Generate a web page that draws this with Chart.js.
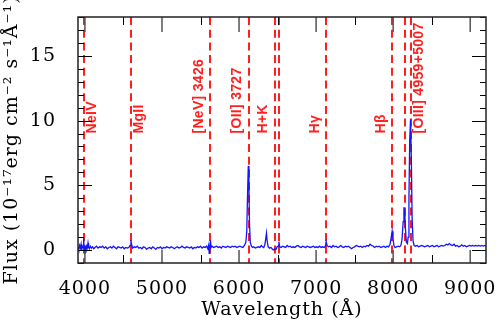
<!DOCTYPE html>
<html>
<head>
<meta charset="utf-8">
<script src="https://cdn.jsdelivr.net/npm/chart.js@4.4.1/dist/chart.umd.min.js"></script>
<style>
  html, body { margin: 0; padding: 0; background: #fff; }
  #wrap { width: 498px; height: 327px; }
</style>
</head>
<body>
<div id="wrap"><canvas id="spec"></canvas></div>
<script>
const wavelength = [
  3910, 3920, 3930, 3940, 3950, 3958, 3966, 3975, 3983, 3990, 3997, 4005, 4012, 4020, 4030, 4040, 4048, 4058, 4070, 4085,
  4100, 4115, 4130, 4150, 4170, 4190, 4210, 4230, 4250, 4270, 4290, 4310, 4330, 4350, 4370, 4390, 4410, 4430, 4450, 4470,
  4490, 4510, 4530, 4550, 4570, 4585, 4597, 4608, 4620, 4640, 4660, 4680, 4700, 4720, 4740, 4760, 4780, 4800, 4820, 4840,
  4860, 4880, 4900, 4920, 4940, 4960, 4980, 5000, 5020, 5040, 5060, 5080, 5100, 5120, 5140, 5160, 5180, 5200, 5220, 5240,
  5260, 5280, 5300, 5320, 5340, 5360, 5380, 5400, 5420, 5440, 5460, 5480, 5500, 5520, 5540, 5560, 5580, 5595, 5605, 5613,
  5620, 5629, 5638, 5650, 5670, 5690, 5710, 5730, 5750, 5770, 5790, 5810, 5830, 5850, 5870, 5890, 5910, 5930, 5950, 5970,
  5990, 6010, 6030, 6050, 6070, 6088, 6100, 6110, 6120, 6128, 6136, 6146, 6160, 6175, 6190, 6210, 6230, 6250, 6270, 6290,
  6305, 6320, 6335, 6347, 6356, 6365, 6378, 6395, 6415, 6435, 6450, 6465, 6480, 6495, 6508, 6517, 6528, 6545, 6565, 6585,
  6605, 6625, 6645, 6665, 6685, 6705, 6725, 6745, 6765, 6785, 6805, 6825, 6845, 6865, 6885, 6905, 6925, 6945, 6965, 6985,
  7005, 7025, 7045, 7065, 7085, 7105, 7120, 7131, 7142, 7160, 7180, 7200, 7220, 7240, 7260, 7280, 7300, 7320, 7340, 7360,
  7380, 7400, 7420, 7440, 7460, 7480, 7500, 7520, 7540, 7560, 7580, 7600, 7620, 7640, 7660, 7680, 7700, 7720, 7740, 7760,
  7780, 7800, 7820, 7840, 7860, 7880, 7900, 7920, 7940, 7960, 7975, 7987, 7998, 8010, 8025, 8045, 8065, 8085, 8100, 8115,
  8130, 8140, 8150, 8160, 8172, 8185, 8195, 8205, 8215, 8226, 8236, 8246, 8258, 8272, 8290, 8310, 8330, 8350, 8370, 8390,
  8410, 8430, 8450, 8470, 8490, 8510, 8530, 8550, 8570, 8590, 8610, 8630, 8650, 8670, 8690, 8710, 8730, 8750, 8770, 8790,
  8810, 8830, 8850, 8870, 8890, 8910, 8930, 8950, 8970, 8990, 9010, 9030, 9050, 9070, 9090, 9110, 9130, 9150, 9170, 9190,
  9205
];
const flux = [
  0.25, 0.05, 0.35, 0.15, 0.45, -0.05, 0.3, 0.2, 0.95, 0.1, -0.3, 0.35, -0.2, 0.3, 0.15, 0.55, 0.2, 0.1, 0.3, 0.15,
  0.25, 0.1, 0.2, 0.3, 0.15, 0.25, 0.2, 0.3, 0.15, 0.25, 0.1, 0.2, 0.25, 0.15, 0.3, 0.2, 0.1, 0.25, 0.2, 0.15,
  0.25, 0.1, 0.2, 0.15, 0.2, 0.35, 0.75, 0.35, 0.15, 0.25, 0.2, 0.3, 0.15, 0.2, 0.1, 0.25, 0.2, 0.05, 0.15, 0.2,
  0.1, 0.25, 0.15, 0.05, 0.2, 0.15, 0.25, 0.1, 0.2, 0.15, 0.25, 0.2, 0.15, 0.25, 0.2, 0.1, 0.2, 0.25, 0.15, 0.2,
  0.3, 0.2, 0.15, 0.25, 0.2, 0.15, 0.25, 0.1, 0.2, 0.15, 0.25, 0.2, 0.3, 0.15, 0.25, 0.2, 0.3, 0.1, 0.35, -0.25,
  0.15, 0.75, 0.2, 0.3, 0.2, 0.25, 0.3, 0.2, 0.25, 0.15, 0.3, 0.25, 0.2, 0.3, 0.25, 0.2, 0.3, 0.25, 0.3, 0.2,
  0.25, 0.3, 0.25, 0.2, 0.35, 0.6, 1.4, 4.2, 6.5, 5.0, 2.0, 0.6, 0.3, 0.2, 0.25, 0.15, 0.2, 0.25, 0.2, 0.35,
  0.25, 0.2, 0.4, 0.9, 1.3, 0.7, 0.25, 0.15, 0.2, 0.05, 0.0, 0.1, 0.05, 0.25, 0.3, 0.65, 0.25, 0.2, 0.3, 0.25,
  0.2, 0.35, 0.25, 0.3, 0.2, 0.25, 0.2, 0.3, 0.35, 0.25, 0.2, 0.3, 0.25, 0.2, 0.3, 0.25, 0.2, 0.25, 0.3, 0.2,
  0.25, 0.2, 0.3, 0.2, 0.25, 0.2, 0.3, 0.65, 0.35, 0.25, 0.3, 0.2, 0.35, 0.25, 0.3, 0.2, 0.25, 0.35, 0.25, 0.2,
  0.3, 0.25, 0.3, 0.2, 0.1, 0.2, 0.25, 0.35, 0.3, 0.25, 0.3, 0.2, 0.3, 0.25, 0.35, 0.3, 0.45, 0.35, 0.3, 0.2,
  0.3, 0.25, 0.3, 0.2, 0.25, 0.3, 0.2, 0.3, 0.25, 0.45, 1.0, 1.45, 0.9, 0.35, 0.2, 0.25, 0.3, 0.25, 0.35, 0.8,
  2.2, 3.3, 3.0, 1.6, 0.6, 0.5, 1.0, 4.0, 8.5, 10.1, 7.0, 2.5, 0.7, 0.35, 0.3, 0.35, 0.25, 0.3, 0.35, 0.3,
  0.25, 0.3, 0.35, 0.25, 0.3, 0.35, 0.25, 0.3, 0.35, 0.25, 0.3, 0.35, 0.3, 0.35, 0.45, 0.4, 0.5, 0.4, 0.35, 0.45,
  0.3, 0.35, 0.25, 0.3, 0.4, 0.3, 0.35, 0.25, 0.3, 0.35, 0.3, 0.35, 0.3, 0.35, 0.3, 0.35, 0.3, 0.35, 0.3, 0.35,
  0.3
];

// emission / absorption lines at z ~ 0.643
const lineWaves = [3983, 4597, 5629, 6123, 6463, 6520, 7131, 7987, 8148, 8226];
const lineLabels = ['NeIV', 'MgII', '[NeV] 3426', '[OII] 3727', 'H+K', 'H\u03b3', 'H\u03b2', '[OIII] 4959+5007'];
const labelLine = [3983, 4597, 5629, 6123, 6463, 7131, 7987, 8226];
const labelSide = [1, 1, -1, -1, -1, -1, -1, 1];
const labelFlux = 9;

const xTicks = [4000, 5000, 6000, 7000, 8000, 9000];
const xMinor = [4500, 5500, 6500, 7500, 8500];
const yTicks = [0, 5, 10, 15];
const yMinor = [-1, 1, 2, 3, 4, 6, 7, 8, 9, 11, 12, 13, 14, 16, 17, 18];

const serif = '"DejaVu Serif", serif';

const decor = {
  id: 'decor',
  beforeDraw(chart) {
    chart.ctx.letterSpacing = '1px';
  },
  beforeDatasetsDraw(chart) {
    const { ctx, chartArea: a, scales: { x } } = chart;
    ctx.save();
    ctx.strokeStyle = '#ff1f1f';
    ctx.lineWidth = 2;
    ctx.setLineDash([8, 4.7]);
    lineWaves.forEach(function (w) {
      const px = Math.round(x.getPixelForValue(w));
      ctx.beginPath();
      ctx.moveTo(px, a.top);
      ctx.lineTo(px, a.bottom);
      ctx.stroke();
    });
    ctx.restore();
  },
  afterDatasetsDraw(chart) {
    const { ctx, chartArea: a, scales: { x, y } } = chart;
    ctx.save();

    // line labels
    ctx.fillStyle = '#ff1f1f';
    ctx.font = 'bold 14px "Liberation Sans", Arial, sans-serif';
    ctx.letterSpacing = '0.3px';
    ctx.textAlign = 'left';
    ctx.textBaseline = 'middle';
    lineLabels.forEach(function (txt, i) {
      const px = x.getPixelForValue(labelLine[i]) + (labelSide[i] > 0 ? 8.5 : -11.5);
      ctx.save();
      ctx.translate(px, y.getPixelForValue(labelFlux));
      ctx.rotate(-Math.PI / 2);
      ctx.fillText(txt, 0, 0);
      ctx.restore();
    });

    // inward ticks
    function tick(x1, y1, x2, y2, col, w) {
      ctx.strokeStyle = col;
      ctx.lineWidth = w;
      ctx.beginPath();
      ctx.moveTo(x1, y1);
      ctx.lineTo(x2, y2);
      ctx.stroke();
    }
    xTicks.forEach(function (v) {
      const px = x.getPixelForValue(v);
      tick(px, a.bottom, px, a.bottom - 13, '#555', 1.5);
      tick(px, a.top, px, a.top + 15, '#555', 1.5);
    });
    xMinor.forEach(function (v) {
      const px = Math.round(x.getPixelForValue(v)) + 0.5;
      tick(px, a.bottom, px, a.bottom - 8, '#000', 1);
      tick(px, a.top, px, a.top + 8, '#000', 1);
    });
    yTicks.forEach(function (v) {
      const py = Math.round(y.getPixelForValue(v)) + 0.5;
      tick(a.left, py, a.left + 14, py, '#000', 1);
      tick(a.right, py, a.right - 14, py, '#000', 1);
    });
    yMinor.forEach(function (v) {
      const py = Math.round(y.getPixelForValue(v)) + 0.5;
      tick(a.left, py, a.left + 6, py, '#000', 1);
      tick(a.right, py, a.right - 6, py, '#000', 1);
    });

    // frame
    ctx.strokeStyle = '#222';
    ctx.lineWidth = 1.5;
    ctx.strokeRect(a.left, a.top, a.right - a.left, a.bottom - a.top);
    ctx.restore();
  }
};

new Chart(document.getElementById('spec'), {
  type: 'line',
  data: {
    datasets: [{
      data: wavelength.map(function (w, i) { return { x: w, y: flux[i] }; }),
      borderColor: '#1414ff',
      borderWidth: 1.3,
      pointRadius: 0,
      tension: 0,
      fill: false
    }]
  },
  options: {
    responsive: true,
    maintainAspectRatio: false,
    animation: false,
    events: [],
    layout: { padding: { top: 17, right: 12, left: 0, bottom: 0 } },
    plugins: { legend: { display: false }, tooltip: { enabled: false } },
    scales: {
      x: {
        type: 'linear',
        min: 3910,
        max: 9205,
        grid: { display: false },
        border: { display: false },
        afterBuildTicks: function (s) { s.ticks = xTicks.map(function (v) { return { value: v }; }); },
        afterFit: function (s) { s.height = 64; s.paddingLeft = 0; s.paddingRight = 0; },
        ticks: {
          color: '#000',
          font: { family: serif, size: 19 },
          padding: 7,
          maxRotation: 0,
          callback: function (v) { return String(v); }
        },
        title: {
          display: true,
          text: 'Wavelength (\u00c5)',
          color: '#000',
          font: { family: serif, size: 19 },
          padding: { top: 0, bottom: 6 }
        }
      },
      y: {
        min: -1,
        max: 18,
        grid: { display: false },
        border: { display: false },
        afterBuildTicks: function (s) { s.ticks = yTicks.map(function (v) { return { value: v }; }); },
        afterFit: function (s) { s.width = 78; s.paddingTop = 0; s.paddingBottom = 0; },
        ticks: {
          color: '#000',
          font: { family: serif, size: 19 },
          padding: 14,
          callback: function (v) { return String(v); }
        },
        title: {
          display: true,
          text: 'Flux (10\u207b\u00b9\u2077erg cm\u207b\u00b2 s\u207b\u00b9\u00c5\u207b\u00b9)',
          color: '#000',
          font: { family: serif, size: 19 },
          padding: { top: 1, bottom: 0 }
        }
      }
    }
  },
  plugins: [decor]
});
</script>
</body>
</html>
